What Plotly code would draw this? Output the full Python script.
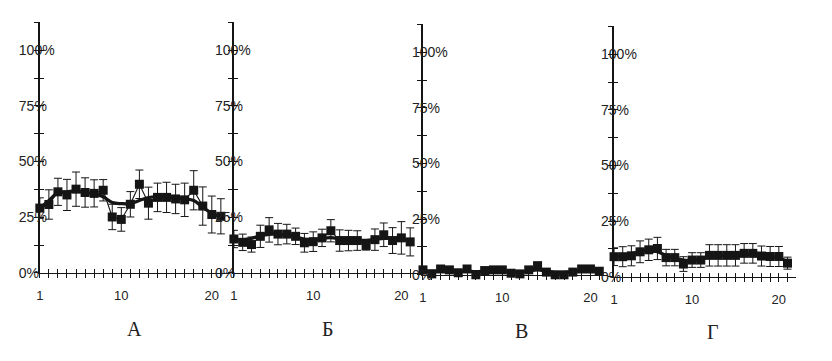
import plotly.graph_objects as go

# ---------------- data ----------------
x_vals = list(range(1, 22))
panel_labels = ["А", "Б", "В", "Г"]

y_tick_vals = [0, 12.5, 25, 37.5, 50, 62.5, 75, 87.5, 100, 112.5]
y_tick_text = ["0%", "", "25%", "", "50%", "", "75%", "", "100%", ""]
x_tick_labels = [1, 10, 20]

a_mean = [29.1, 30.7, 36.4, 35.0, 37.6, 36.1, 35.7, 37.1, 25.1, 24.0, 30.8,
          39.8, 31.3, 33.9, 33.9, 33.2, 32.8, 37.1, 30.0, 26.2, 25.4]
a_err = [4.6, 6.6, 6.1, 7.0, 7.7, 6.6, 6.1, 4.8, 5.7, 5.3, 5.7,
         6.4, 7.2, 6.4, 6.8, 6.6, 7.5, 8.8, 8.6, 8.3, 7.9]
a_trend = [29.0, 32.5, 36.0, 36.4, 36.8, 36.0, 35.5, 34.2, 31.6, 31.1, 31.1,
           32.5, 33.8, 34.2, 34.2, 33.8, 33.3, 32.5, 29.4, 26.8, 25.0]

b_mean = [15.2, 13.7, 12.7, 16.4, 19.3, 17.4, 17.4, 16.4, 13.5, 14.0, 15.7,
          18.9, 14.5, 14.5, 14.5, 12.3, 14.9, 17.1, 14.5, 15.7, 13.9]
b_err = [3.9, 3.7, 3.4, 5.0, 5.5, 4.8, 4.4, 3.7, 4.2, 4.4, 3.9,
         5.0, 4.8, 4.6, 4.4, 2.1, 4.8, 5.3, 5.8, 7.3, 6.3]
b_trend = [15.2, 14.8, 15.5, 16.6, 17.3, 17.3, 17.0, 16.2, 15.2, 15.0, 15.5,
           15.8, 15.3, 14.8, 14.6, 14.6, 15.0, 15.5, 15.4, 15.2, 14.6]

v_mean = [2.2, 0.4, 2.6, 2.2, 0.9, 2.6, 0.0, 1.9, 2.2, 2.2, 0.7,
          0.4, 2.2, 4.1, 1.2, 0.0, 0.0, 1.2, 2.6, 2.6, 1.6]
v_err = [1.0, 0.8, 1.0, 1.0, 0.8, 1.0, 0.6, 1.0, 1.0, 1.0, 0.8,
         0.8, 1.0, 1.2, 0.8, 0.6, 0.6, 1.0, 1.6, 1.6, 1.2]
v_trend = [1.8, 1.6, 1.8, 1.8, 1.6, 1.6, 1.4, 1.6, 1.8, 1.7, 1.4,
           1.3, 1.7, 2.2, 1.6, 1.0, 1.0, 1.4, 2.0, 2.2, 1.8]

g_mean = [9.0, 9.0, 9.4, 11.2, 12.1, 12.7, 8.6, 8.6, 5.7, 7.5, 7.5,
          9.6, 9.6, 9.6, 9.6, 10.5, 10.5, 9.3, 9.1, 9.1, 6.1]
g_err = [4.0, 4.5, 4.5, 4.9, 4.8, 5.0, 3.7, 3.7, 3.3, 3.3, 3.3,
         4.8, 4.8, 4.8, 4.8, 4.4, 4.4, 4.5, 4.5, 4.5, 2.7]
g_trend = [9.0, 9.4, 10.3, 11.3, 11.9, 11.2, 9.6, 8.4, 7.5, 7.4, 8.0,
           9.0, 9.5, 9.6, 9.8, 10.1, 10.1, 9.6, 9.2, 8.4, 6.8]

series = [(a_mean, a_err, a_trend), (b_mean, b_err, b_trend),
          (v_mean, v_err, v_trend), (g_mean, g_err, g_trend)]

# ---------------- layout geometry (px) ----------------
W, H = 832, 361
# (axis x, end x, baseline y, top y, y-label standoff)
geom = [(36, 227, 279, 23, -21),
        (231, 417, 279, 23, -19),
        (421, 607, 281, 25, -11),
        (613, 796, 283, 27, -13)]
letter_pos = [(131, 336), (325, 336), (520, 339), (712, 340)]

INK = "#151515"
TXT = "#222222"
fig = go.Figure()

x_tick_text = [str(v) if v in x_tick_labels else "" for v in x_vals]

for i, ((mean, err, trend), (x0, x1, yb, yt, so)) in enumerate(zip(series, geom)):
    n = i + 1
    m = i + 5
    xa = "x" if n == 1 else f"x{n}"
    ya = "y" if n == 1 else f"y{n}"
    xdom = [x0 / W, x1 / W]
    ydom = [(H - yb) / H, (H - yt) / H]

    # observed values: thin connecting line, square markers, error bars
    fig.add_trace(go.Scatter(
        x=x_vals, y=mean, mode="lines+markers", xaxis=xa, yaxis=ya,
        line=dict(color=INK, width=1.1),
        marker=dict(symbol="square", size=9, color=INK),
        error_y=dict(type="data", array=err, color=INK, thickness=1, width=4),
        cliponaxis=False, showlegend=False, hoverinfo="skip"))
    # thick smoothed curve
    fig.add_trace(go.Scatter(
        x=x_vals, y=trend, mode="lines", xaxis=xa, yaxis=ya,
        line=dict(color=INK, width=3.2, shape="spline", smoothing=1.0),
        cliponaxis=False, showlegend=False, hoverinfo="skip"))
    # empty trace on overlay axes that carry the inner half of the cross ticks
    fig.add_trace(go.Scatter(
        x=[None], y=[None], xaxis=f"x{m}", yaxis=f"y{m}", mode="markers",
        showlegend=False, hoverinfo="skip"))

    common_y = dict(range=[0, 112.5], tickvals=y_tick_vals, showgrid=False,
                    zeroline=False, fixedrange=True)
    common_x = dict(range=[1, 22], tickvals=x_vals, showgrid=False,
                    zeroline=False, fixedrange=True)

    fig.update_layout(**{
        f"xaxis{n}": dict(domain=xdom, anchor=ya, showline=True, linecolor=INK,
                          linewidth=1.4, ticks="outside", ticklen=4, tickwidth=1,
                          tickcolor=INK, ticktext=x_tick_text,
                          tickfont=dict(family="Liberation Sans", size=13, color=TXT),
                          ticklabelstandoff=6, **common_x),
        f"yaxis{n}": dict(domain=ydom, anchor=xa, showline=True, linecolor=INK,
                          linewidth=1.6, ticks="outside", ticklen=4, tickwidth=1,
                          tickcolor=INK, ticktext=y_tick_text,
                          ticklabelposition="inside", ticklabelstandoff=so,
                          ticklabeloverflow="allow",
                          tickfont=dict(family="Liberation Sans", size=14, color=TXT),
                          **common_y),
        f"xaxis{m}": dict(overlaying=xa, anchor=f"y{m}", showline=False,
                          ticks="inside", ticklen=4, tickwidth=1, tickcolor=INK,
                          showticklabels=False, **common_x),
        f"yaxis{m}": dict(overlaying=ya, anchor=f"x{m}", showline=False,
                          ticks="inside", ticklen=4, tickwidth=1, tickcolor=INK,
                          showticklabels=False, **common_y),
    })

for lab, (lx, ly) in zip(panel_labels, letter_pos):
    fig.add_annotation(text=lab, x=lx / W, y=(H - ly) / H, xref="paper", yref="paper",
                       showarrow=False, xanchor="center", yanchor="middle",
                       font=dict(family="Liberation Serif", size=20, color=TXT))

fig.update_layout(width=W, height=H, margin=dict(l=0, r=0, t=0, b=0),
                  paper_bgcolor="white", plot_bgcolor="white")

fig.write_html("out.html")
